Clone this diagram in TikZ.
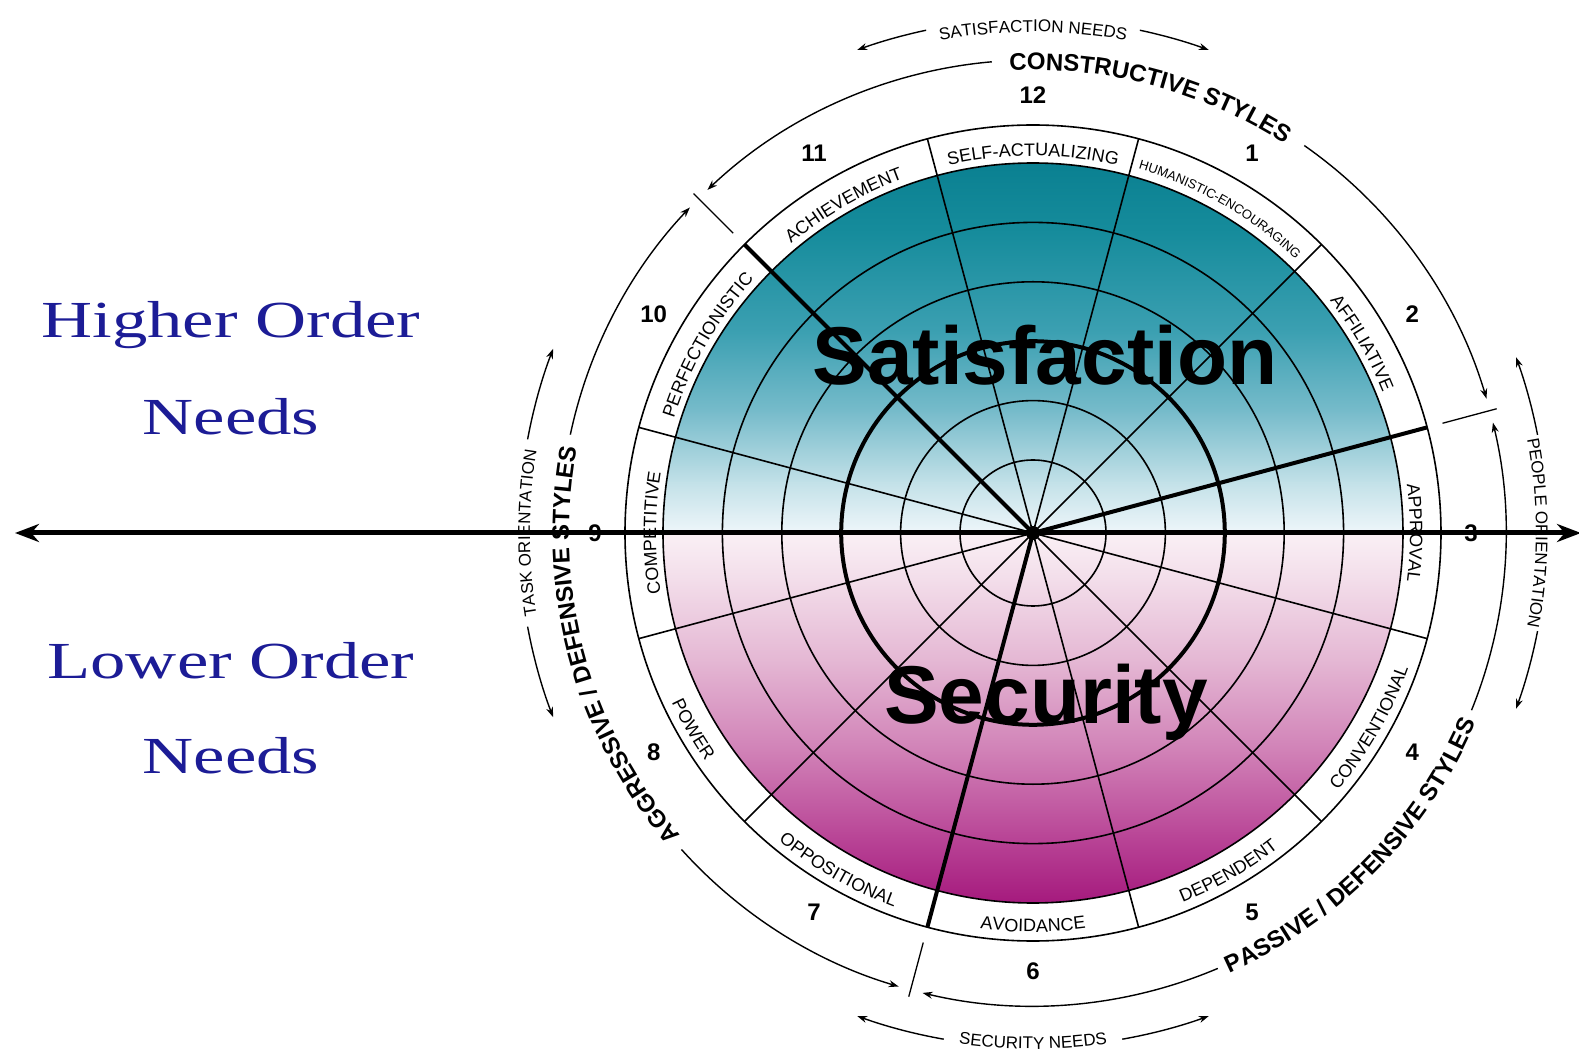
\documentclass[tikz,border=0pt]{standalone}
\usepackage{fontspec}
\usetikzlibrary{arrows.meta,decorations.text}
\newfontfamily\arialf{Liberation Sans}
\newfontfamily\timesf{Liberation Serif}

% vertical colour ramp of the inner disk (teal above, magenta below)
\definecolor{g0}{RGB}{10,128,145}
\definecolor{g1}{RGB}{22,140,156}
\definecolor{g2}{RGB}{60,160,178}
\definecolor{g3}{RGB}{120,188,203}
\definecolor{g4}{RGB}{195,225,232}
\definecolor{g5}{RGB}{238,246,250}
\definecolor{g6}{RGB}{250,240,245}
\definecolor{g7}{RGB}{242,220,233}
\definecolor{g8}{RGB}{228,182,211}
\definecolor{g9}{RGB}{208,128,182}
\definecolor{g10}{RGB}{186,72,152}
\definecolor{g11}{RGB}{165,25,125}
\definecolor{needsblue}{RGB}{28,28,150}

\newcommand\segfont{\arialf\fontsize{18}{18}\selectfont}
\newcommand\segsmallfont{\arialf\fontsize{13}{13}\selectfont}
\newcommand\clusterfont{\arialf\bfseries\fontsize{24}{24}\selectfont}
\newcommand\needfont{\arialf\fontsize{17}{17}\selectfont}

\tikzset{
  gridline/.style={line width=1.6pt},
  boldline/.style={line width=4pt},
  tickline/.style={line width=1.3pt},
  arcarrow/.style={line width=1.4pt,-{Stealth[length=10pt,width=7pt]}},
  arctext/.style n args={2}{decorate,
    decoration={text along path, text align=center, text={|#1|#2}}},
  numlbl/.style={font=\arialf\bfseries\fontsize{24}{24}\selectfont, inner sep=0pt},
  bigword/.style={font=\arialf\bfseries\fontsize{82}{82}\selectfont, inner sep=0pt, anchor=base},
  needsword/.style={font=\timesf\fontsize{52}{52}\selectfont, text=needsblue, inner sep=0pt, anchor=base},
}

\begin{document}
\begin{tikzpicture}[x=1pt,y=1pt]
\useasboundingbox (-1033,-521) rectangle (546,533);
\fill[white] (-1033,-521) rectangle (546,533);
\coordinate (O) at (0,0);

% ---- shaded inner disk ----
\begin{scope}
  \clip (O) circle[radius=370];
  \shade[top color=g0,bottom color=g1]   (-371,371)    rectangle (371,299.5);
  \shade[top color=g1,bottom color=g2]   (-371,300.5)  rectangle (371,199.5);
  \shade[top color=g2,bottom color=g3]   (-371,200.5)  rectangle (371,119.5);
  \shade[top color=g3,bottom color=g4]   (-371,120.5)  rectangle (371,49.5);
  \shade[top color=g4,bottom color=g5]   (-371,50.5)   rectangle (371,0);
  \shade[top color=g6,bottom color=g7]   (-371,0)      rectangle (371,-50.5);
  \shade[top color=g7,bottom color=g8]   (-371,-49.5)  rectangle (371,-130.5);
  \shade[top color=g8,bottom color=g9]   (-371,-129.5) rectangle (371,-220.5);
  \shade[top color=g9,bottom color=g10]  (-371,-219.5) rectangle (371,-300.5);
  \shade[top color=g10,bottom color=g11] (-371,-299.5) rectangle (371,-371);
\end{scope}

% ---- grid: rings and spokes ----
\foreach \r in {73,132.4,251.2,310.6}
  \draw[gridline] (O) circle[radius=\r];
\foreach \a in {45,75,105,165,195,225,285,315,345}
  \draw[gridline] (O) -- (\a:408);
\draw[gridline] (O) circle[radius=370];
\draw[gridline] (O) circle[radius=408];
\foreach \a in {15,135,255}
  \draw[boldline] (O) -- (\a:408);
\draw[boldline] (O) circle[radius=191.8];
\fill (O) circle[radius=7];

% ---- style names in the label ring ----
\path[arctext={\segfont}{SELF-ACTUALIZING}] (130:377) arc[start angle=130,end angle=50,radius=377];
\path[arctext={\segsmallfont}{HUMANISTIC-ENCOURAGING}] (100:379) arc[start angle=100,end angle=20,radius=379];
\path[arctext={\segfont}{AFFILIATIVE}] (70:377) arc[start angle=70,end angle=-10,radius=377];
\path[arctext={\segfont}{APPROVAL}] (40:377) arc[start angle=40,end angle=-40,radius=377];
\path[arctext={\segfont}{COMPETITIVE}] (220:377) arc[start angle=220,end angle=140,radius=377];
\path[arctext={\segfont}{PERFECTIONISTIC}] (190:377) arc[start angle=190,end angle=110,radius=377];
\path[arctext={\segfont}{ACHIEVEMENT}] (160:377) arc[start angle=160,end angle=80,radius=377];
\path[arctext={\segfont}{CONVENTIONAL}] (-70:399) arc[start angle=-70,end angle=10,radius=399];
\path[arctext={\segfont}{DEPENDENT}] (-100:399) arc[start angle=-100,end angle=-20,radius=399];
\path[arctext={\segfont}{AVOIDANCE}] (-130:399) arc[start angle=-130,end angle=-50,radius=399];
\path[arctext={\segfont}{OPPOSITIONAL}] (-160:399) arc[start angle=-160,end angle=-80,radius=399];
\path[arctext={\segfont}{POWER}] (-190:399) arc[start angle=-190,end angle=-110,radius=399];

% ---- segment numbers ----
\foreach \n/\a in {12/90,1/60,2/30,3/0,4/-30,5/-60,6/-90,7/-120,8/-150,9/180,10/150,11/120}
  \node[numlbl] (num\n) at (\a:438) {\n};

% ---- cluster arcs with boundary arrows ----
\foreach \a in {15,135,255}
  \draw[tickline] (\a:424) -- (\a:480);
\draw[arcarrow] (95:473)  arc[start angle=95,end angle=133.5,radius=473];
\draw[arcarrow] (55:473)  arc[start angle=55,end angle=16.5,radius=473];
\draw[arcarrow] (-22:473) arc[start angle=-22,end angle=13.5,radius=473];
\draw[arcarrow] (-67:473) arc[start angle=-67,end angle=-103.5,radius=473];
\draw[arcarrow] (222:473) arc[start angle=222,end angle=253.5,radius=473];
\draw[arcarrow] (168:473) arc[start angle=168,end angle=136.5,radius=473];

\path[arctext={\clusterfont}{CONSTRUCTIVE STYLES}] (120:463) arc[start angle=120,end angle=30,radius=463];
\path[arctext={\clusterfont}{PASSIVE / DEFENSIVE STYLES}] (-90:482) arc[start angle=-90,end angle=1,radius=482];
\path[arctext={\clusterfont}{AGGRESSIVE / DEFENSIVE STYLES}] (245:464) arc[start angle=245,end angle=145,radius=464];

% ---- needs / orientation arcs ----
\draw[arcarrow] (102:514) arc[start angle=102,end angle=110,radius=514];
\draw[arcarrow] (78:514)  arc[start angle=78,end angle=70,radius=514];
\draw[arcarrow] (260:514) arc[start angle=260,end angle=250,radius=514];
\draw[arcarrow] (280:514) arc[start angle=280,end angle=290,radius=514];
\draw[arcarrow] (169.5:514) arc[start angle=169.5,end angle=159,radius=514];
\draw[arcarrow] (190.5:514) arc[start angle=190.5,end angle=201,radius=514];
\draw[arcarrow] (11:514)  arc[start angle=11,end angle=20,radius=514];
\draw[arcarrow] (-11:514) arc[start angle=-11,end angle=-20,radius=514];

\path[arctext={\needfont}{SATISFACTION NEEDS}] (120:501) arc[start angle=120,end angle=60,radius=501];
\path[arctext={\needfont}{SECURITY NEEDS}] (240:516) arc[start angle=240,end angle=300,radius=516];
\path[arctext={\needfont}{TASK ORIENTATION}] (210:503) arc[start angle=210,end angle=150,radius=503];
\path[arctext={\needfont}{PEOPLE ORIENTATION}] (30:503) arc[start angle=30,end angle=-30,radius=503];

% ---- horizontal needs axis ----
\coordinate (axL) at (-1018,0);
\coordinate (axR) at (548,0);
\draw[line width=5pt,{Stealth[length=24pt,width=18pt]}-{Stealth[length=24pt,width=18pt]}] (axL) -- (axR);

% ---- centre words ----
\node[bigword] (sat) at (12,148) {Satisfaction};
\node[bigword] (sec) at (13,-190) {Security};

% ---- left-hand captions ----
\node[needsword] (hi1) at (-802,195) {\scalebox{1.36}[1]{Higher Order}};
\node[needsword] (hi2) at (-802,98) {\scalebox{1.36}[1]{Needs}};
\node[needsword] (lo1) at (-802,-145) {\scalebox{1.36}[1]{Lower Order}};
\node[needsword] (lo2) at (-802,-240) {\scalebox{1.36}[1]{Needs}};
\end{tikzpicture}
\end{document}
